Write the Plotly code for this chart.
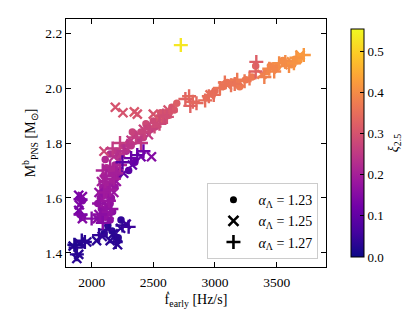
import plotly.graph_objects as go

# alpha_Lambda = 1.23 (circles)
fx_c = [2131, 2238, 2100, 2165, 2190, 2215,
        1905, 1925, 1905, 1925,
        2070, 2110, 2150, 2080, 2130, 2170, 2070, 2120, 2160, 2090, 2140, 2190, 2100, 2160, 2210, 2120, 2190,
        2050, 2100, 2150, 2080, 2130, 2170, 2110, 2180, 2230,
        2150, 2200, 2250, 2300, 2350, 2400, 2450, 2500, 2550, 2600, 2650, 2690, 2280, 2380, 2480,
        2220, 2320, 2420, 2520, 2580, 2620, 2670, 2330, 2440, 2560,
        2300, 2350,
        2930, 3000, 3060, 3150, 3250, 3330, 3420, 3500, 3580, 3650, 3700,
        2980, 3100, 3200, 3300, 3450, 3550, 3620, 3680]
mb_c = [1.50, 1.52, 1.47, 1.48, 1.46, 1.455,
        1.60, 1.59, 1.54, 1.53,
        1.52, 1.53, 1.52, 1.56, 1.57, 1.55, 1.60, 1.61, 1.60, 1.64, 1.65, 1.64, 1.68, 1.69, 1.68, 1.71, 1.72,
        1.58, 1.55, 1.58, 1.62, 1.63, 1.66, 1.74, 1.70, 1.70,
        1.76, 1.77, 1.79, 1.80, 1.83, 1.84, 1.86, 1.88, 1.89, 1.91, 1.93, 1.945, 1.77, 1.81, 1.85,
        1.75, 1.79, 1.82, 1.86, 1.88, 1.90, 1.92, 1.84, 1.87, 1.91,
        1.70, 1.73,
        1.965, 1.99, 2.005, 2.02, 2.03, 2.08, 2.06, 2.075, 2.09, 2.105, 2.115,
        1.98, 2.02, 2.005, 2.04, 2.08, 2.10, 2.085, 2.10]
xi_c = [0.03, 0.04, 0.03, 0.03, 0.04, 0.03,
        0.14, 0.15, 0.14, 0.14,
        0.16, 0.17, 0.16, 0.17, 0.18, 0.16, 0.18, 0.19, 0.17, 0.19, 0.20, 0.18, 0.20, 0.21, 0.19, 0.22, 0.21,
        0.17, 0.17, 0.18, 0.18, 0.19, 0.20, 0.22, 0.21, 0.20,
        0.23, 0.24, 0.25, 0.25, 0.26, 0.27, 0.27, 0.28, 0.29, 0.30, 0.31, 0.32, 0.22, 0.24, 0.26,
        0.23, 0.24, 0.26, 0.27, 0.28, 0.30, 0.31, 0.27, 0.28, 0.30,
        0.09, 0.11,
        0.35, 0.35, 0.36, 0.36, 0.37, 0.33, 0.39, 0.39, 0.40, 0.41, 0.42,
        0.35, 0.36, 0.37, 0.37, 0.39, 0.40, 0.41, 0.42]

# alpha_Lambda = 1.25 (crosses x)
fx_x = [1880, 1895, 1850, 1900, 2040, 2085, 2150, 2210, 2235, 2175, 1960, 2280,
        1895, 1925, 1900, 1895, 1925, 2046,
        2060, 2140, 2100, 2060, 2180, 2080, 2200, 2130, 2100,
        2192, 2254, 2346, 2370, 2500, 2550,
        2180, 2240, 2320, 2420, 2520, 2620, 2460,
        2485, 2260, 2330, 2400,
        2960, 3100, 3200, 3380, 3460, 3550, 3620, 3690]
mb_x = [1.38, 1.395, 1.425, 1.435, 1.445, 1.46, 1.445, 1.43, 1.49, 1.47, 1.44, 1.505,
        1.61, 1.605, 1.575, 1.555, 1.525, 1.525,
        1.54, 1.54, 1.58, 1.62, 1.62, 1.66, 1.66, 1.70, 1.77,
        1.93, 1.91, 1.913, 1.905, 1.905, 1.885,
        1.75, 1.76, 1.81, 1.85, 1.87, 1.92, 1.83,
        1.75, 1.69, 1.72, 1.75,
        1.975, 2.01, 2.02, 2.05, 2.07, 2.085, 2.095, 2.12]
xi_x = [0.03, 0.03, 0.02, 0.03, 0.03, 0.04, 0.03, 0.03, 0.04, 0.03, 0.03, 0.05,
        0.13, 0.15, 0.14, 0.13, 0.15, 0.16,
        0.16, 0.17, 0.18, 0.17, 0.18, 0.20, 0.18, 0.21, 0.28,
        0.30, 0.30, 0.31, 0.30, 0.30, 0.31,
        0.23, 0.24, 0.25, 0.27, 0.28, 0.30, 0.25,
        0.15, 0.10, 0.10, 0.12,
        0.35, 0.36, 0.37, 0.38, 0.39, 0.40, 0.41, 0.42]

# alpha_Lambda = 1.27 (plus)
fx_p = [1870, 1920, 1945, 2060, 2120, 2250, 2300, 2195, 1880, 1860,
        2000, 1910, 1910,
        2090, 2120, 2060, 2140, 2100, 2150, 2110, 2180, 2150, 2090, 2230,
        2070, 2160, 2120, 2200,
        2170, 2230, 2290, 2360, 2430, 2510, 2580, 2640,
        2260, 2400, 2470, 2550, 2610,
        2370, 2250, 2420, 2320,
        2760, 2790, 2820, 2800, 2850,
        2723,
        2920, 2990, 3040, 3080, 3130, 3180, 3280, 3330, 3335, 3400, 3480, 3520, 3600, 3660, 3720,
        2950, 3160, 3240, 3440, 3570, 3640]
mb_p = [1.42, 1.445, 1.44, 1.465, 1.485, 1.50, 1.495, 1.44, 1.395, 1.43,
        1.525, 1.595, 1.54,
        1.51, 1.55, 1.58, 1.59, 1.62, 1.63, 1.66, 1.67, 1.71, 1.70, 1.72,
        1.54, 1.56, 1.68, 1.69,
        1.78, 1.80, 1.79, 1.82, 1.84, 1.86, 1.90, 1.915,
        1.77, 1.80, 1.85, 1.87, 1.895,
        1.756, 1.73, 1.77, 1.745,
        1.96, 1.97, 1.95, 1.935, 1.945,
        2.156,
        1.955, 1.975, 2.00, 2.02, 2.01, 2.03, 2.035, 2.06, 2.095, 2.04, 2.06, 2.09, 2.08, 2.11, 2.12,
        1.97, 2.015, 2.025, 2.07, 2.095, 2.09]
xi_p = [0.03, 0.03, 0.03, 0.04, 0.04, 0.04, 0.05, 0.03, 0.03, 0.02,
        0.15, 0.14, 0.14,
        0.15, 0.17, 0.17, 0.18, 0.19, 0.19, 0.20, 0.20, 0.21, 0.21, 0.21,
        0.16, 0.17, 0.20, 0.20,
        0.25, 0.26, 0.24, 0.26, 0.27, 0.28, 0.29, 0.30,
        0.23, 0.25, 0.27, 0.28, 0.29,
        0.10, 0.09, 0.12, 0.11,
        0.33, 0.34, 0.34, 0.33, 0.34,
        0.53,
        0.35, 0.35, 0.36, 0.36, 0.36, 0.37, 0.37, 0.33, 0.32, 0.38, 0.39, 0.40, 0.40, 0.41, 0.42,
        0.35, 0.36, 0.37, 0.39, 0.40, 0.41]

legend_labels = ["<i>α</i><sub>Λ</sub> = 1.23", "<i>α</i><sub>Λ</sub> = 1.25", "<i>α</i><sub>Λ</sub> = 1.27"]
x_ticks = [2000, 2500, 3000, 3500]
y_ticks = [1.4, 1.6, 1.8, 2.0, 2.2]
cb_ticks = [0.0, 0.1, 0.2, 0.3, 0.4, 0.5]

FONT = "Liberation Serif"
CMIN, CMAX = 0.0, 0.554

fig = go.Figure()

def mk(symbol, size, lw, colors, show_cb=False):
    m = dict(symbol=symbol, size=size, color=colors, colorscale="Plasma",
             cmin=CMIN, cmax=CMAX,
             line=dict(width=lw, color=colors, colorscale="Plasma", cmin=CMIN, cmax=CMAX))
    if show_cb:
        m["showscale"] = True
        m["colorbar"] = dict(
            x=1.0586, xanchor="left", xref="paper", y=0.5, yanchor="middle",
            len=1.0, lenmode="fraction", thickness=13,
            outlinecolor="black", outlinewidth=1,
            ticks="inside", ticklen=4, tickwidth=1, tickcolor="black",
            tickvals=cb_ticks, tickformat=".1f",
            tickfont=dict(family=FONT, size=13, color="black"),
            title=dict(text="<i>ξ</i><sub>2.5</sub>", side="right",
                       font=dict(family=FONT, size=14, color="black")),
        )
    return m

fig.add_trace(go.Scatter(x=fx_c, y=mb_c, mode="markers", showlegend=False,
                         marker=mk("circle", 7.5, 0, xi_c, show_cb=True)))
fig.add_trace(go.Scatter(x=fx_x, y=mb_x, mode="markers", showlegend=False,
                         marker=mk("x-thin", 9, 2.4, xi_x)))
fig.add_trace(go.Scatter(x=fx_p, y=mb_p, mode="markers", showlegend=False,
                         marker=mk("cross-thin", 10, 2.4, xi_p)))

# legend proxies (black)
for lab, sym, sz, lw in zip(legend_labels, ["circle", "x-thin", "cross-thin"], [7, 10, 10], [0, 2.6, 2.6]):
    fig.add_trace(go.Scatter(x=[None], y=[None], mode="markers", name=lab,
                             marker=dict(symbol=sym, size=sz, color="black",
                                         line=dict(width=lw, color="black"))))

axis_common = dict(showgrid=False, zeroline=False, showline=True, linecolor="black",
                   linewidth=1.2, mirror="allticks", ticks="inside", ticklen=5,
                   tickwidth=1, tickcolor="black",
                   tickfont=dict(family=FONT, size=13.5, color="black"))

fig.update_layout(
    width=416, height=314,
    margin=dict(l=58, r=85, t=11, b=55),
    paper_bgcolor="white", plot_bgcolor="white",
    font=dict(family=FONT, color="black"),
    xaxis=dict(range=[1792, 3900], tickvals=x_ticks, ticklabelstandoff=3,
               title=dict(text="ḟ<sub>early</sub> [Hz/s]", standoff=4,
                          font=dict(family=FONT, size=14, color="black")),
               **axis_common),
    yaxis=dict(range=[1.349, 2.251], tickvals=y_ticks, tickformat=".1f",
               title=dict(text="M<sup>b</sup><sub>PNS</sub> [M<sub>⊙</sub>]", standoff=6,
                          font=dict(family=FONT, size=14, color="black")),
               **axis_common),
    legend=dict(x=0.971, xanchor="right", y=0.032, yanchor="bottom",
                bgcolor="rgba(255,255,255,0.8)", bordercolor="#cccccc", borderwidth=1,
                font=dict(family=FONT, size=14, color="black"),
                itemwidth=40, tracegroupgap=2),
)

fig.write_html("out.html")
